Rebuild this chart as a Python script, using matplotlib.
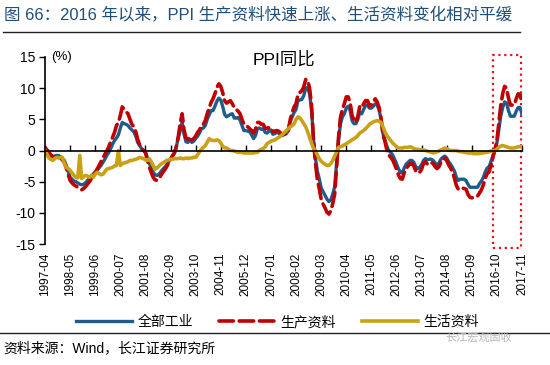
import numpy as np
import matplotlib
matplotlib.use('Agg')
import matplotlib.pyplot as plt
from matplotlib.patches import Rectangle

plt.rcParams['font.family'] = ['Liberation Sans', 'Noto Sans CJK SC']
plt.rcParams['axes.unicode_minus'] = False

# 数据：PPI 同比 (%), 1997-04 ~ 2017-11, 月度
tick_labels = ['1997-04', '1998-05', '1999-06', '2000-07', '2001-08', '2002-09',
               '2003-10', '2004-11', '2005-12', '2007-01', '2008-02', '2009-03',
               '2010-04', '2011-05', '2012-06', '2013-07', '2014-08', '2015-09',
               '2016-10', '2017-11']

# 全部工业
ppi_all = [
    0.4, 0.1, -0.3, -0.7, -1.0, -0.9, -0.8, -0.8, -1.0,
    -1.3, -1.6, -2.4, -3.3, -4.3, -4.6, -4.9, -5.0, -5.2, -5.4, -5.5, -5.4,
    -5.2, -4.8, -4.5, -4.2, -3.8, -3.5, -3.1, -2.8, -2.4, -1.9, -1.4, -0.8,
    -0.3, 0.3, 1.0, 1.6, 2.0, 2.5, 3.6, 4.5, 4.3, 4.2, 4.0, 3.6,
    3.3, 3.0, 2.3, 1.3, 0.8, 0.3, 0.0, -0.3, -1.2, -2.0, -2.8, -3.5,
    -3.9, -4.0, -3.8, -3.4, -3.0, -2.7, -2.3, -1.8, -1.4, -0.8, -0.4, 0.6,
    2.0, 3.2, 4.5, 2.6, 1.4, 1.3, 1.8, 1.3, 1.5, 1.9, 2.3, 2.8,
    3.5, 3.6, 4.0, 5.0, 5.7, 6.4, 6.4, 7.1, 7.9, 8.4, 8.1, 7.1,
    5.8, 5.4, 5.6, 5.8, 5.9, 5.2, 5.2, 5.3, 4.9, 4.0, 3.2, 3.2,
    3.1, 3.0, 2.5, 1.9, 2.4, 3.5, 3.6, 3.4, 3.5, 2.9, 2.8, 3.1,
    3.3, 2.6, 2.7, 2.9, 2.8, 2.5, 2.4, 2.6, 2.7, 3.2, 4.6, 5.4,
    6.1, 6.6, 8.0, 8.1, 8.2, 8.8, 10.0, 10.1, 9.1, 6.6, 2.0, -1.1,
    -3.3, -4.5, -6.0, -6.6, -7.2, -7.8, -8.2, -7.9, -7.0, -5.8, -2.1, 1.7,
    4.3, 5.4, 5.9, 6.8, 7.1, 6.4, 4.8, 4.3, 4.3, 5.0, 6.1, 5.9,
    6.6, 7.2, 7.3, 6.8, 6.8, 7.1, 7.5, 7.3, 6.5, 5.0, 2.7, 1.7,
    0.7, 0.0, -0.3, -0.7, -1.4, -2.1, -2.9, -3.5, -3.6, -2.8, -2.2, -1.9,
    -1.6, -1.6, -1.9, -2.6, -2.9, -2.7, -2.3, -1.6, -1.3, -1.5, -1.4, -1.4,
    -1.6, -2.0, -2.3, -2.0, -1.4, -1.1, -0.9, -1.2, -1.8, -2.2, -2.7, -3.3,
    -4.3, -4.8, -4.6, -4.6, -4.6, -4.8, -5.4, -5.9, -5.9, -5.9, -5.9, -5.9,
    -5.3, -4.9, -4.3, -3.4, -2.8, -2.6, -1.7, -0.8, 0.1, 1.2, 3.3, 5.5,
    6.9, 7.8, 7.6, 6.4, 5.5, 5.5, 5.5, 6.3, 6.9, 6.9, 5.8,
]

# 生产资料
ppi_prod = [
    0.5, 0.1, -0.3, -0.7, -1.0, -1.0, -0.9, -0.9, -1.2,
    -1.5, -1.9, -2.8, -3.8, -4.8, -5.2, -5.5, -5.7, -5.9, -6.1, -6.3, -6.1,
    -5.8, -5.4, -5.0, -4.5, -4.0, -3.5, -3.0, -2.4, -1.8, -1.2, -0.6, -0.1,
    0.6, 1.4, 2.1, 2.9, 4.0, 4.5, 5.6, 7.0, 6.6, 6.2, 5.9, 5.0,
    4.2, 3.8, 3.0, 1.8, 0.9, 0.3, 0.0, -0.3, -1.5, -2.6, -3.5, -4.3,
    -4.7, -4.8, -4.5, -4.0, -3.5, -3.1, -2.6, -2.0, -1.5, -0.9, -0.4, 0.6,
    2.2, 4.3, 5.9, 3.3, 2.0, 1.8, 2.2, 1.7, 1.9, 2.3, 2.9, 3.3,
    4.0, 4.2, 4.8, 5.9, 6.8, 7.7, 8.3, 9.1, 10.1, 10.7, 10.3, 9.3,
    8.0, 7.6, 7.8, 8.0, 7.5, 6.9, 6.6, 6.3, 5.9, 5.0, 4.2, 4.0,
    3.8, 3.5, 3.2, 2.8, 3.4, 4.5, 4.5, 4.2, 4.2, 3.6, 3.5, 3.7,
    3.6, 3.0, 3.1, 3.2, 3.1, 2.8, 2.6, 2.6, 2.6, 3.3, 5.0, 6.1,
    7.0, 7.5, 9.0, 9.3, 9.6, 10.2, 11.4, 11.3, 10.0, 7.3, 1.9, -1.9,
    -4.6, -6.1, -7.8, -8.6, -9.2, -9.9, -10.2, -9.7, -8.5, -7.0, -2.6, 2.1,
    5.3, 6.6, 7.5, 8.6, 8.6, 7.7, 5.6, 4.9, 4.5, 5.5, 7.1, 6.9,
    7.5, 8.0, 8.0, 7.2, 7.3, 7.8, 8.3, 7.8, 6.9, 5.2, 2.6, 1.5,
    0.1, -0.7, -1.1, -1.5, -2.2, -3.0, -3.9, -4.5, -4.6, -3.6, -2.9, -2.5,
    -2.1, -2.1, -2.5, -3.3, -3.6, -3.5, -3.0, -2.1, -1.8, -2.2, -2.0, -1.9,
    -2.1, -2.6, -2.9, -2.6, -1.9, -1.5, -1.2, -1.6, -2.3, -2.8, -3.5, -4.4,
    -5.6, -6.2, -6.0, -6.0, -6.1, -6.2, -7.0, -7.5, -7.6, -7.5, -7.4, -7.3,
    -6.8, -6.3, -5.5, -4.4, -3.7, -3.4, -2.3, -1.0, 0.1, 1.6, 4.4, 7.2,
    9.1, 10.3, 10.0, 8.4, 7.3, 7.3, 7.3, 8.3, 9.1, 9.0, 7.6,
]

# 生活资料
ppi_cons = [
    0.0, -0.6, -1.2, -1.4, -1.6, -1.3, -1.1, -1.2, -1.1,
    -1.1, -2.0, -2.7, -2.9, -3.2, -3.6, -4.0, -4.3, -4.4, -0.8, -4.5, -4.2,
    -4.0, -4.1, -4.3, -4.0, -4.3, -3.8, -3.5, -3.7, -3.9, -3.8, -3.4, -3.0,
    -2.9, -2.8, -2.7, -2.5, -2.4, 0.0, -2.4, -2.1, -2.0, -1.9, -1.8, -1.6,
    -1.6, -1.5, -1.4, -1.3, -1.1, -1.2, -1.3, -1.5, -1.6, -1.3, -1.8, -2.4,
    -3.0, -2.8, -2.5, -2.2, -2.0, -1.8, -1.6, -1.5, -1.4, -1.4, -1.3, -1.3,
    -1.3, -1.2, -1.3, -1.3, -1.2, -1.3, -1.2, -1.2, -1.1, -1.1, -0.7, -0.2,
    0.2, 0.5, 0.8, 1.3, 1.9, 1.7, 1.6, 1.6, 1.7, 1.6, 1.2, 0.7,
    0.4, 0.4, 0.2, 0.0, 0.0, -0.1, -0.2, -0.3, -0.3, -0.3, -0.4, -0.4,
    -0.4, -0.4, -0.4, -0.4, -0.3, -0.3, 0.0, 0.2, 0.3, 0.6, 1.1, 1.3,
    1.5, 1.6, 1.7, 1.9, 2.1, 2.3, 2.6, 2.9, 3.2, 3.5, 3.8, 4.0,
    4.3, 5.0, 5.4, 5.2, 4.8, 4.3, 3.8, 3.0, 2.1, 1.2, 0.4, 0.0,
    -0.7, -1.3, -1.7, -2.0, -2.2, -2.4, -2.4, -2.1, -1.6, -0.9, -0.2, 0.5,
    0.6, 0.7, 0.9, 1.1, 1.3, 1.5, 1.7, 1.9, 2.1, 2.4, 2.8, 3.0,
    3.2, 3.5, 3.8, 4.2, 4.4, 4.6, 4.7, 4.8, 4.7, 4.5, 3.8, 3.0,
    2.4, 2.0, 1.6, 1.2, 0.9, 0.6, 0.4, 0.4, 0.4, 0.5, 0.5, 0.5,
    0.6, 0.5, 0.3, 0.2, 0.2, 0.1, 0.1, 0.1, 0.0, -0.1, -0.2, -0.3,
    -0.4, -0.3, -0.2, -0.1, 0.1, 0.2, 0.4, 0.3, 0.1, 0.0, 0.0, 0.0,
    0.0, -0.1, -0.2, -0.2, -0.3, -0.3, -0.4, -0.4, -0.4, -0.5, -0.5, -0.5,
    -0.5, -0.4, -0.4, -0.3, -0.3, -0.2, -0.1, 0.0, 0.0, 0.2, 0.5, 0.7,
    0.8, 0.7, 0.6, 0.5, 0.4, 0.4, 0.4, 0.5, 0.6, 0.6, 0.6,
]

c_blue = '#1d5d8c'
c_red = '#c00000'
c_gold = '#c9a116'

x = np.arange(len(ppi_all))
xt = np.arange(0, len(ppi_all), 13)

fig = plt.figure(figsize=(5.5, 3.65), dpi=100)
ax = fig.add_axes([45/550, 1 - 244/365, 477/550, 187/365])

l1, = ax.plot(x, ppi_all, color=c_blue, lw=2.4, label='全部工业')
l2, = ax.plot(x, ppi_prod, color=c_red, lw=2.6, ls=(0, (4, 1.6)),
              dash_capstyle='round', label='生产资料')
l3, = ax.plot(x, ppi_cons, color=c_gold, lw=2.6, label='生活资料')

ax.set_xlim(0, len(ppi_all) - 1)
ax.set_ylim(-15, 15)
ax.set_yticks(np.arange(-15, 16, 5))
ax.tick_params(axis='y', direction='out', length=4, width=1, labelsize=10, pad=3)

# 横轴在 0 处
ax.spines['bottom'].set_position(('data', 0))
ax.spines['top'].set_visible(False)
ax.spines['right'].set_visible(False)
ax.spines['left'].set_linewidth(1.2)
ax.spines['bottom'].set_linewidth(1.2)
ax.set_xticks(xt)
ax.tick_params(axis='x', direction='in', length=4, width=1, labelbottom=False)

# 日期标签在底部
sec = ax.secondary_xaxis(0)
sec.set_xticks(xt, tick_labels, rotation=90, fontsize=8.5)
sec.tick_params(length=0, pad=6)
sec.spines['bottom'].set_visible(False)

# 红色虚线框
ax.add_patch(Rectangle((232, -15.7), 14.5, 31.0, fill=False, ec='#e0161e',
                       ls=':', lw=1.6, clip_on=False))

ax.text(0.012, 1.0, '(%)', transform=ax.transAxes, fontsize=9.5, va='center')
ax.text(0.5, 0.985, 'PPI同比', transform=ax.transAxes, fontsize=12.5,
        ha='center', va='center')

fig.legend(handles=[l1, l2, l3], loc='center', bbox_to_anchor=(0.505, 1 - 322/365),
           ncol=3, frameon=False, fontsize=10, handlelength=4.0,
           columnspacing=1.9, handletextpad=0.4)

# 标题与来源
fig.text(4/550, 1 - 14/365, '图 66：2016 年以来，PPI 生产资料快速上涨、生活资料变化相对平缓',
         fontsize=11.9, color='#1f4e79', va='center')
fig.add_artist(plt.Line2D([3/550, 520/550], [1 - 32/365, 1 - 32/365],
                          color='#222222', lw=1.0))
fig.add_artist(plt.Line2D([0, 1], [1 - 333/365, 1 - 333/365], color='#222222', lw=1.0))
fig.text(3/550, 1 - 348/365, '资料来源：Wind，长江证券研究所', fontsize=10, va='center')
fig.text(445/550, 1 - 337/365, '长江宏观固收', fontsize=8, color='#b8b8b8', va='center')

fig.savefig('out.png', dpi=100)
